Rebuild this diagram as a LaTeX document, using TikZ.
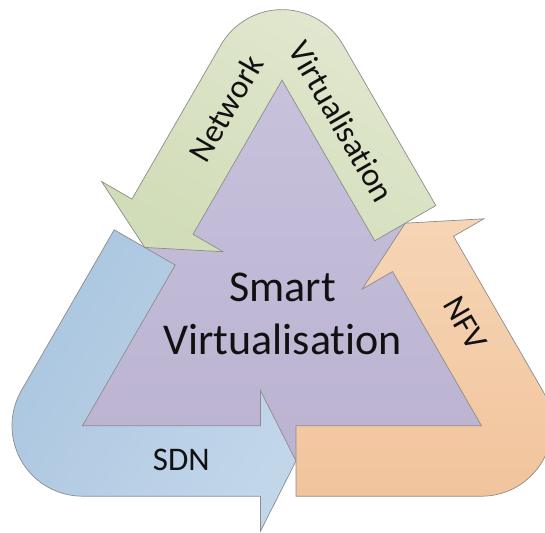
\documentclass[tikz,border=0pt]{standalone}
\usepackage{fontspec}
\setmainfont{Carlito}[Ligatures=NoCommon]
\usetikzlibrary{calc}

\definecolor{edgegray}{HTML}{8C8C8C}
\definecolor{purpletop}{HTML}{CAC4DE}
\definecolor{purplebot}{HTML}{BBB3D1}
\definecolor{greenA}{HTML}{E2E8D0}
\definecolor{greenB}{HTML}{D1DCB8}
\definecolor{blueA}{HTML}{A9C5DF}
\definecolor{blueB}{HTML}{C2D6EA}
\definecolor{orangeA}{HTML}{F6D5B5}
\definecolor{orangeB}{HTML}{F1C49C}
\definecolor{textblack}{HTML}{111111}

% geometry of the bent arrows (units: pt)
\pgfmathsetmacro{\aw}{70.5}   % band width
\pgfmathsetmacro{\ah}{178}    % shaft length up to the barbs
\pgfmathsetmacro{\ad}{35.5}   % head depth
\pgfmathsetmacro{\ae}{35}     % barb overhang
\pgfmathsetmacro{\at}{185.5}  % tail length

% one bent arrow: inner corner at #1, rotated by #2, drawn with style #3
\newcommand{\bentarrow}[3]{%
  \begin{scope}[shift={#1}, rotate=#2]
    \path[#3] (0,0) -- (60:\at) -- ($(60:\at)+(150:\aw)$) -- (150:\aw)
      arc[start angle=150, end angle=270, radius=\aw]
      -- (\ah,-\aw) -- (\ah,-\aw-\ae) -- (\ah+\ad,-\aw/2)
      -- (\ah,\ae) -- (\ah,0) -- cycle;
  \end{scope}}

\tikzset{
  bandshape/.style={draw=edgegray, line width=0.7pt, line join=miter},
  labeltext/.style={text=textblack, inner sep=0pt, font=\fontsize{33}{40}\selectfont},
  titletext/.style={text=textblack, inner sep=0pt, font=\fontsize{44}{53}\selectfont},
}

\begin{document}
\begin{tikzpicture}[x=1pt, y=1pt]
  \useasboundingbox (0,0) rectangle (545,532);
  \clip (0,0) rectangle (545,532);

  % central triangle (its rim is hidden under the arrows)
  \path[top color=purpletop, bottom color=purplebot]
    (21.44,71.05) -- (542.56,71.05) -- (282,522.35) -- cycle;

  % the three bent arrows
  \bentarrow{(82.5,106.3)}{0}{bandshape, left color=blueA, right color=blueB, shading angle=60}
  \bentarrow{(481.5,106.3)}{120}{bandshape, top color=orangeA, bottom color=orangeB}
  \bentarrow{(282,451.85)}{240}{bandshape, left color=greenA, right color=greenB, shading angle=-30}

  % labels
  \node[titletext, anchor=base] (smart) at (282.8,230.3) {Smart};
  \node[titletext, anchor=base] (virt) at (282.8,177) {Virtualisation};
  \node[labeltext, rotate=60] (network) at (225.8,423.6) {Network};
  \node[labeltext, rotate=-60] (nv) at (341.7,410.3) {Virtualisation};
  \node[labeltext, rotate=-60] (nfv) at (465,208.5) {NFV};
  \node[labeltext] (sdn) at (181.3,72) {SDN};
\end{tikzpicture}
\end{document}
